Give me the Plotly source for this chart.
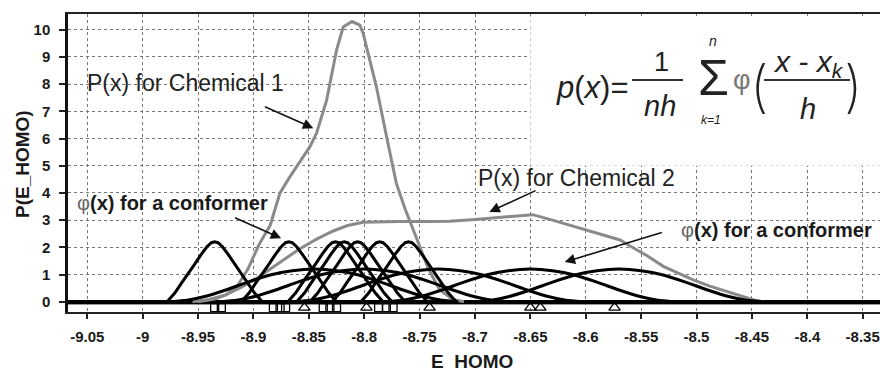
import plotly.graph_objects as go

# ---------------- data ----------------
# P(x) for Chemical 1 (gray)
p1_x = [-8.950, -8.935, -8.925, -8.915, -8.905, -8.895, -8.885, -8.876, -8.867, -8.858,
        -8.849, -8.843, -8.834, -8.825, -8.819, -8.811, -8.804, -8.801, -8.795, -8.789,
        -8.780, -8.771, -8.763, -8.756, -8.751, -8.742, -8.732, -8.720, -8.710]
p1_y = [0.0, 0.1, 0.25, 0.55, 1.2, 2.1, 2.8, 4.0, 4.6, 5.15,
        5.7, 6.2, 7.4, 9.25, 10.1, 10.3, 10.17, 9.87, 8.9, 7.9,
        6.1, 4.35, 3.4, 2.64, 2.15, 1.2, 0.45, 0.08, 0.0]

# P(x) for Chemical 2 (gray)
p2_x = [-8.955, -8.940, -8.925, -8.910, -8.895, -8.882, -8.870, -8.858, -8.843, -8.828,
        -8.815, -8.801, -8.785, -8.768, -8.745, -8.723, -8.700, -8.677, -8.660, -8.648,
        -8.630, -8.615, -8.600, -8.585, -8.569, -8.560, -8.545, -8.530, -8.515, -8.503,
        -8.488, -8.473, -8.460, -8.449, -8.440]
p2_y = [0.0, 0.08, 0.25, 0.55, 0.92, 1.3, 1.62, 1.95, 2.3, 2.6,
        2.8, 2.92, 2.94, 2.95, 2.95, 2.96, 3.02, 3.1, 3.16, 3.2,
        3.0, 2.82, 2.64, 2.45, 2.27, 2.05, 1.7, 1.3, 1.02, 0.8,
        0.57, 0.37, 0.2, 0.07, 0.0]

# kernel profile of one Chemical-1 conformer (offset from its energy, height)
k1_off = [-0.043, -0.036, -0.030, -0.024, -0.018, -0.012, -0.007, -0.003, 0.0,
          0.003, 0.007, 0.012, 0.018, 0.024, 0.030, 0.036, 0.043]
k1_val = [0.0, 0.32, 0.68, 1.02, 1.38, 1.75, 2.02, 2.17, 2.2,
          2.17, 2.02, 1.75, 1.38, 1.02, 0.68, 0.32, 0.0]
# kernel profile of one Chemical-2 conformer
k2_off = [-0.130, -0.115, -0.100, -0.080, -0.060, -0.040, -0.020, 0.0,
          0.020, 0.040, 0.060, 0.080, 0.100, 0.115, 0.130]
k2_val = [0.0, 0.05, 0.18, 0.43, 0.72, 0.98, 1.14, 1.2,
          1.14, 0.98, 0.72, 0.43, 0.18, 0.05, 0.0]

# kernel centres seen on the chart
chem1_centres = [-8.935, -8.868, -8.826, -8.818, -8.806, -8.786, -8.760]
chem2_centres = [-8.845, -8.800, -8.733, -8.650, -8.570]

# conformer markers along the bottom
chem1_marks = [-8.935, -8.929, -8.882, -8.876, -8.871, -8.837, -8.831, -8.825,
               -8.787, -8.780, -8.774]
chem2_marks = [-8.854, -8.798, -8.741, -8.650, -8.641, -8.574]
mark_level = -0.22

x_tickvals = [-9.05, -9.0, -8.95, -8.9, -8.85, -8.8, -8.75, -8.7, -8.65, -8.6,
              -8.55, -8.5, -8.45, -8.4, -8.35]
x_ticktext = ["-9.05", "-9", "-8.95", "-8.9", "-8.85", "-8.8", "-8.75", "-8.7",
              "-8.65", "-8.6", "-8.55", "-8.5", "-8.45", "-8.4", "-8.35"]
y_tickvals = [0, 1, 2, 3, 4, 5, 6, 7, 8, 9, 10]

# ---------------- figure ----------------
FONT = "Liberation Sans, Arial, sans-serif"
THIN = "Inter, Noto Sans, Liberation Sans, sans-serif"
W, H = 880, 374
ML, MR, MT, MB = 68, 0, 14, 62


def PX(x):
    return (x - ML) / (W - ML - MR)


def PY(y):
    return (H - MB - y) / (H - MT - MB)


fig = go.Figure()

fig.add_trace(go.Scatter(x=p2_x, y=p2_y, mode="lines",
                         line=dict(color="#8a8a8a", width=3), hoverinfo="skip"))
fig.add_trace(go.Scatter(x=p1_x, y=p1_y, mode="lines",
                         line=dict(color="#8a8a8a", width=3), hoverinfo="skip"))

for c in chem2_centres:
    fig.add_trace(go.Scatter(x=[c + o for o in k2_off], y=k2_val, mode="lines",
                             line=dict(color="black", width=3, shape="spline",
                                       smoothing=0.6), hoverinfo="skip"))
for c in chem1_centres:
    fig.add_trace(go.Scatter(x=[c + o for o in k1_off], y=k1_val, mode="lines",
                             line=dict(color="black", width=3), hoverinfo="skip"))

fig.add_trace(go.Scatter(x=chem1_marks, y=[mark_level] * len(chem1_marks), mode="markers",
                         marker=dict(symbol="square-open", size=8, color="black",
                                     line=dict(width=1.3, color="black")),
                         hoverinfo="skip"))
fig.add_trace(go.Scatter(x=chem2_marks, y=[mark_level] * len(chem2_marks), mode="markers",
                         marker=dict(symbol="triangle-up-open", size=10, color="black",
                                     line=dict(width=1.3, color="black")),
                         hoverinfo="skip"))

x_lo = -9.05 - (87.3 - ML) / 1107.7
x_hi = -8.35 + (W - MR - 862.7) / 1107.7
y_lo = -(312 - 301.7) / 27.2
y_hi = (301.7 - 14) / 27.2

fig.update_layout(
    width=W, height=H, showlegend=False,
    margin=dict(l=ML, r=MR, t=MT, b=MB, pad=0),
    paper_bgcolor="white", plot_bgcolor="white",
    font=dict(family=FONT, color="#1a1a1a"),
    xaxis=dict(range=[x_lo, x_hi], tickmode="array", tickvals=x_tickvals,
               ticktext=x_ticktext, ticks="outside", ticklen=5, tickwidth=1.5,
               tickcolor="#222", showline=True, linecolor="#222", linewidth=2,
               mirror=True, showgrid=True, gridcolor="#777", griddash="dot",
               gridwidth=1, zeroline=False, ticklabelstandoff=5,
               tickfont=dict(size=15, family=FONT, weight="bold", color="#1a1a1a")),
    yaxis=dict(range=[y_lo, y_hi], tickmode="array", tickvals=y_tickvals,
               ticks="outside", ticklen=6, tickwidth=1.5, tickcolor="#222",
               showline=True, linecolor="#111", linewidth=2.5, mirror=False,
               showgrid=True, gridcolor="#777", griddash="dot", gridwidth=1,
               zeroline=True, zerolinecolor="black", zerolinewidth=3.5,
               ticklabelstandoff=6,
               tickfont=dict(size=15, family=FONT, weight="bold", color="#1a1a1a")),
)

shapes = []
# thin gray line just under the baseline
shapes.append(dict(type="line", xref="paper", yref="y", x0=0, x1=1, y0=-0.09, y1=-0.09,
                   line=dict(color="#9a9a9a", width=1.5), layer="below"))
# white panel behind the formula
shapes.append(dict(type="rect", xref="x", yref="y", x0=-8.65, x1=x_hi + 0.01,
                   y0=5.0, y1=10.5, fillcolor="white", line=dict(width=0),
                   layer="above"))
# fraction bars
shapes.append(dict(type="line", xref="paper", yref="paper", x0=PX(632), x1=PX(683),
                   y0=PY(80), y1=PY(80), line=dict(color="#333", width=2)))
shapes.append(dict(type="line", xref="paper", yref="paper", x0=PX(764), x1=PX(850),
                   y0=PY(80), y1=PY(80), line=dict(color="#333", width=2)))
fig.update_layout(shapes=shapes)

ann = []


def text(xp, yp, s, size, color="#1a1a1a", weight="normal", angle=0, family=FONT):
    ann.append(dict(xref="paper", yref="paper", x=PX(xp), y=PY(yp), text=s,
                    showarrow=False, xanchor="center", yanchor="middle",
                    textangle=angle,
                    font=dict(family=family, size=size, color=color, weight=weight)))


def arrow(x_head, y_head, x_tail, y_tail):
    ann.append(dict(xref="x", yref="y", axref="x", ayref="y",
                    x=x_head, y=y_head, ax=x_tail, ay=y_tail, text="",
                    showarrow=True, arrowhead=2, arrowsize=1.3, arrowwidth=1.6,
                    arrowcolor="#111", standoff=0, startstandoff=0))


# labels
text(185, 83, "P(x) for Chemical 1", 23, color="#222")
text(576, 178, "P(x) for Chemical 2", 23, color="#222")
phi_lbl = "<span style='font-weight:normal;color:#666'>φ</span><b>(x) for a conformer</b>"
text(172, 203, phi_lbl, 20)
text(776, 230, phi_lbl, 20)

# arrows (data coordinates)
arrow(-8.846, 6.38, -8.891, 7.19)
arrow(-8.875, 2.33, -8.918, 3.11)
arrow(-8.687, 3.30, -8.644, 4.11)
arrow(-8.619, 1.46, -8.530, 2.56)

# axis titles
text(472, 361, "<b>E  HOMO</b>", 19)
text(22, 164, "<b>P(E_HOMO)</b>", 19, angle=-90)

# formula
text(592, 88, "<i>p</i>(<i>x</i>)=", 31, color="#222")
text(661, 62, "1", 27, color="#222")
text(660, 106, "<i>nh</i>", 29, color="#222")
text(713, 78, "Σ", 50, color="#222")
text(713, 41, "<i>n</i>", 14, color="#222")
text(711, 120, "<i>k=1</i>", 12, color="#222")
text(742, 80, "φ", 27, color="#777")
text(759, 86, "(", 56, color="#222", weight=200, family=THIN)
text(853, 86, ")", 56, color="#222", weight=200, family=THIN)
text(808, 64, "<i>x - x<sub>k</sub></i>", 30, color="#222")
text(808, 109, "<i>h</i>", 29, color="#222")

fig.update_layout(annotations=ann)

fig.write_html("out.html",
               config={"displayModeBar": False},
               post_script="document.body.style.margin='0px';"
                           "document.body.style.overflow='hidden';")
